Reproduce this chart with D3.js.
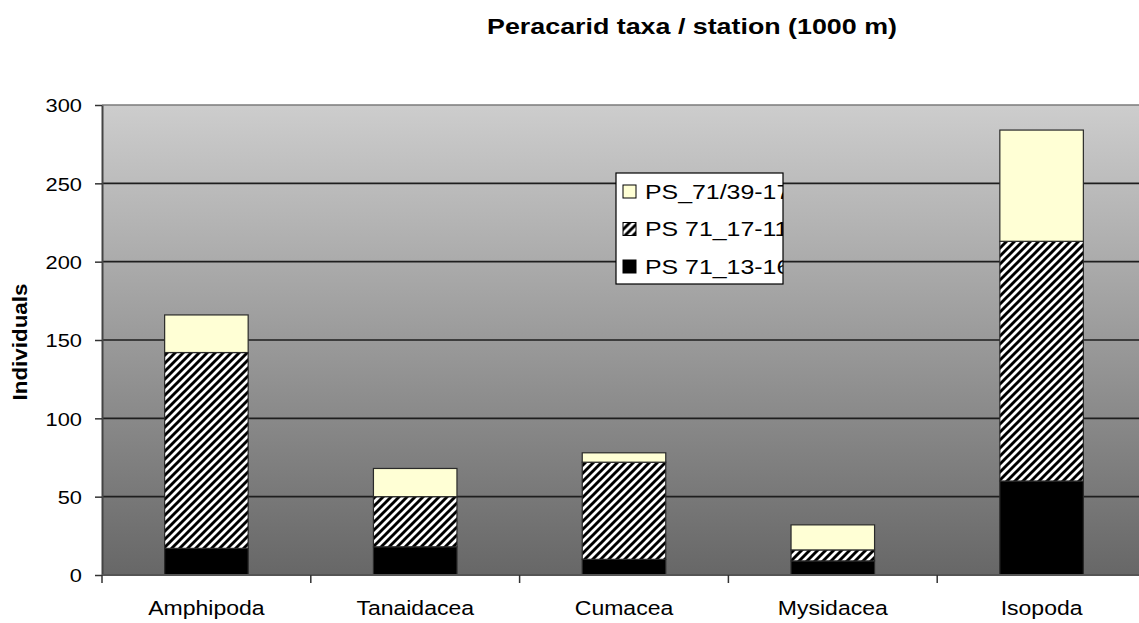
<!DOCTYPE html>
<html>
<head>
<meta charset="utf-8">
<script src="https://cdn.jsdelivr.net/npm/d3@7"></script>
<style>
  html, body { margin: 0; padding: 0; background: #ffffff; }
  svg { display: block; font-family: Arial, "Liberation Sans", sans-serif; }
</style>
</head>
<body>
<svg id="chart" width="1139" height="623"></svg>
<script>
// Peracarid taxa counted per station at 1000 m depth
const categories = ["Amphipoda", "Tanaidacea", "Cumacea", "Mysidacea", "Isopoda"];
const seriesNames = ["PS 71_13-16", "PS 71_17-11", "PS_71/39-17"];
const station13_16 = [17, 18, 10, 9, 60];
const station17_11 = [125, 32, 62, 7, 153];
const station39_17 = [24, 18, 6, 16, 71];
const yTicks = [0, 50, 100, 150, 200, 250, 300];

const svg = d3.select("#chart");
const plot = { left: 102, right: 1146, top: 105, bottom: 575 };

const rows = categories.map((c, i) => ({
  category: c,
  [seriesNames[0]]: station13_16[i],
  [seriesNames[1]]: station17_11[i],
  [seriesNames[2]]: station39_17[i]
}));
const stacked = d3.stack().keys(seriesNames)(rows);

const x = d3.scaleBand().domain(categories)
  .range([plot.left, plot.right]).paddingInner(0.6).paddingOuter(0.3);
const y = d3.scaleLinear().domain([0, 300]).range([plot.bottom, plot.top]);

const defs = svg.append("defs");
const grad = defs.append("linearGradient").attr("id", "bgGrad")
  .attr("x1", 0).attr("y1", 0).attr("x2", 0).attr("y2", 1);
grad.append("stop").attr("offset", "0%").attr("stop-color", "#cdcdcd");
grad.append("stop").attr("offset", "100%").attr("stop-color", "#676767");

const hatch = defs.append("pattern").attr("id", "hatch")
  .attr("patternUnits", "userSpaceOnUse").attr("width", 8).attr("height", 8);
hatch.append("rect").attr("width", 8).attr("height", 8).attr("fill", "#ffffff");
hatch.append("path")
  .attr("d", "M-2,2 L2,-2 M0,8 L8,0 M6,10 L10,6")
  .attr("stroke", "#000").attr("stroke-width", 2.9);

const fills = {
  [seriesNames[0]]: "#000000",
  [seriesNames[1]]: "url(#hatch)",
  [seriesNames[2]]: "#ffffd5"
};

// plot background
svg.append("rect")
  .attr("x", plot.left).attr("y", plot.top)
  .attr("width", plot.right - plot.left).attr("height", plot.bottom - plot.top)
  .attr("fill", "url(#bgGrad)");

// horizontal gridlines
svg.append("g").selectAll("line").data(yTicks.filter(t => t > 0)).join("line")
  .attr("x1", plot.left).attr("x2", plot.right)
  .attr("y1", d => y(d)).attr("y2", d => y(d))
  .attr("stroke", d => d === 300 ? "#7a7a7a" : "#1e1e1e")
  .attr("stroke-width", 1.6);

// stacked bars
svg.append("g").selectAll("g").data(stacked).join("g")
  .attr("fill", d => fills[d.key])
  .selectAll("rect").data(d => d).join("rect")
  .attr("x", d => x(d.data.category))
  .attr("width", x.bandwidth())
  .attr("y", d => y(d[1]))
  .attr("height", d => y(d[0]) - y(d[1]))
  .attr("stroke", "#2a2a2a").attr("stroke-width", 1.2);

// y axis
const yAxis = svg.append("g").attr("transform", `translate(${plot.left},0)`)
  .call(d3.axisLeft(y).tickValues(yTicks).tickSize(7).tickSizeOuter(0).tickFormat(d3.format("d")));
yAxis.select(".domain").attr("stroke", "#444").attr("stroke-width", 2);
yAxis.selectAll(".tick line").attr("stroke", "#333").attr("stroke-width", 1.5);
yAxis.selectAll(".tick text").remove();
yAxis.selectAll(".tick").append("text")
  .attr("transform", "translate(-20,0) scale(1.18,1)")
  .attr("text-anchor", "end").attr("dy", "0.36em")
  .attr("fill", "#000").style("font-size", "18.5px")
  .text(d => d);

// x axis with ticks at category boundaries
const xAxisG = svg.append("g").attr("transform", `translate(0,${plot.bottom})`);
xAxisG.append("line").attr("x1", plot.left).attr("x2", plot.right)
  .attr("stroke", "#555").attr("stroke-width", 2);
const bounds = d3.range(categories.length + 1).map(i => plot.left + i * x.step());
xAxisG.selectAll("line.tk").data(bounds).join("line")
  .attr("class", "tk")
  .attr("x1", d => d).attr("x2", d => d).attr("y1", 0).attr("y2", 8)
  .attr("stroke", "#333").attr("stroke-width", 1.5);
xAxisG.selectAll("text").data(categories).join("text")
  .attr("transform", d => `translate(${x(d) + x.bandwidth() / 2},40) scale(1.18,1)`)
  .attr("text-anchor", "middle").attr("fill", "#000")
  .style("font-size", "19.5px")
  .text(d => d);

// title
svg.append("text")
  .attr("transform", "translate(692,34) scale(1.22,1)")
  .attr("text-anchor", "middle").attr("font-weight", "bold")
  .style("font-size", "22px").attr("fill", "#000")
  .text("Peracarid taxa / station (1000 m)");

// y axis title
svg.append("text")
  .attr("transform", "translate(27,342) rotate(-90) scale(1.12,1)")
  .attr("text-anchor", "middle").attr("font-weight", "bold")
  .style("font-size", "20px").attr("fill", "#000")
  .text("Individuals");

// legend (text clipped by its frame)
const lg = { x: 616, y: 173, w: 167, h: 111 };
defs.append("clipPath").attr("id", "legendClip")
  .append("rect").attr("x", lg.x).attr("y", lg.y).attr("width", lg.w).attr("height", lg.h);
const legend = svg.append("g");
legend.append("rect").attr("x", lg.x).attr("y", lg.y).attr("width", lg.w).attr("height", lg.h)
  .attr("fill", "#ffffff").attr("stroke", "#000").attr("stroke-width", 1.2);
const legendOrder = seriesNames.slice().reverse();
const items = legend.append("g").attr("clip-path", "url(#legendClip)")
  .selectAll("g").data(legendOrder).join("g")
  .attr("transform", (d, i) => `translate(${lg.x},${lg.y + 18 + i * 37.5})`);
items.append("rect").attr("x", 7).attr("y", -6).attr("width", 13).attr("height", 13)
  .attr("fill", d => fills[d]).attr("stroke", "#000").attr("stroke-width", 1);
items.append("text")
  .attr("transform", "translate(29,0) scale(1.185,1)")
  .attr("dy", "0.36em").attr("fill", "#000")
  .style("font-size", "21px")
  .text(d => d);
</script>
</body>
</html>
